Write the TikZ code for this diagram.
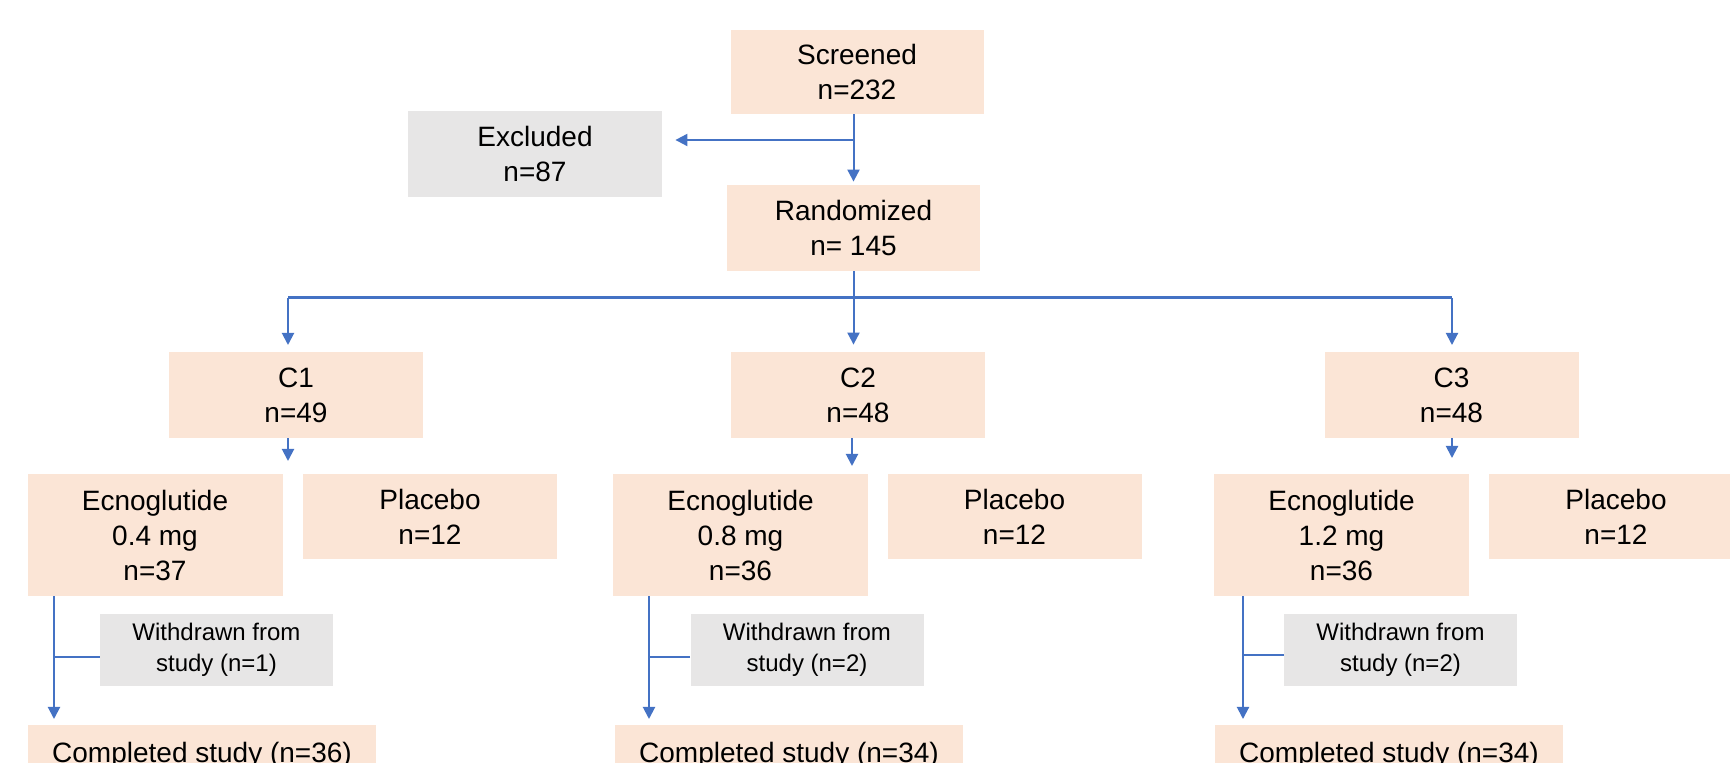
\documentclass[tikz,border=0pt]{standalone}
\usepackage{fontspec}
\setmainfont{Liberation Sans}
\usetikzlibrary{arrows.meta,calc}
\definecolor{peach}{HTML}{FBE5D6}
\definecolor{lgray}{HTML}{E7E6E6}
\definecolor{lblue}{HTML}{4472C4}
\begin{document}
\begin{tikzpicture}[x=0.5pt,y=-0.5pt,
  box/.style={fill=peach, inner sep=0pt, align=center, font=\fontsize{14}{17.5}\selectfont},
  gbox/.style={fill=lgray, inner sep=0pt, align=center, font=\fontsize{14}{17.5}\selectfont},
  wbox/.style={fill=lgray, inner sep=0pt, align=center, font=\fontsize{12}{15.5}\selectfont,
    minimum width=116.5pt, minimum height=36pt},
  cbox/.style={box, minimum width=127pt, minimum height=43pt},
  ebox/.style={box, minimum width=127.5pt, minimum height=61pt},
  pbox/.style={box, minimum width=127pt, minimum height=42.5pt},
  donebox/.style={box, minimum width=174pt, minimum height=30pt},
  conn/.style={draw=lblue, line width=1pt},
  arr/.style={conn, -{Triangle[width=6pt,length=6pt]}},
  busline/.style={draw=lblue, line width=1.5pt}]
\useasboundingbox (0,0) rectangle (1730,763);

% nodes
\node[box, minimum width=126.5pt, minimum height=42pt] (scr) at (857,72) {Screened\\n=232};
\node[gbox, minimum width=127pt, minimum height=43pt] (exc) at (535,154) {Excluded\\n=87};
\node[box, minimum width=126.5pt, minimum height=43pt] (rand) at (853.5,228) {Randomized\\n= 145};

\node[cbox] (c1) at (296,395) {C1\\n=49};
\node[cbox] (c2) at (858,395) {C2\\n=48};
\node[cbox] (c3) at (1451.5,395) {C3\\n=48};

\node[ebox] (e1) at (155,535) {Ecnoglutide\\0.4 mg\\n=37};
\node[ebox] (e2) at (740.5,535) {Ecnoglutide\\0.8 mg\\n=36};
\node[ebox] (e3) at (1341.5,535) {Ecnoglutide\\1.2 mg\\n=36};

\node[pbox] (p1) at (430,516.5) {Placebo\\n=12};
\node[pbox] (p2) at (1014.5,516.5) {Placebo\\n=12};
\node[pbox] (p3) at (1616,516.5) {Placebo\\n=12};

\node[wbox] (w1) at (216.5,650) {Withdrawn from\\study (n=1)};
\node[wbox] (w2) at (807,650) {Withdrawn from\\study (n=2)};
\node[wbox] (w3) at (1400.5,650) {Withdrawn from\\study (n=2)};

\node[donebox] (d1) at (202,755) {Completed study (n=36)};
\node[donebox] (d2) at (789,755) {Completed study (n=34)};
\node[donebox] (d3) at (1389,755) {Completed study (n=34)};

% top connectors
\coordinate (ej) at (853.5,140);
\draw[arr, shorten >=1.5pt] (scr.south -| rand.north) -- (rand.north);
\draw[arr, shorten >=6.5pt] (ej) -- (exc.east |- ej);

% distribution
\coordinate (dj) at (853.5,298);
\coordinate (c1in) at (288,352);
\coordinate (c3in) at (1452,352);
\draw[conn] (rand.south) -- (dj);
\draw[busline] (c1in |- dj) -- (c3in |- dj);
\draw[arr, shorten >=3.5pt] (c1in |- dj) -- (c1in);
\draw[arr, shorten >=3.5pt] (dj) -- (dj |- c2.north);
\draw[arr, shorten >=3.5pt] (c3in |- dj) -- (c3in);

% cohort to arms
\coordinate (a1) at (288,461);
\coordinate (a2) at (852,466);
\coordinate (a3) at (1452,458);
\draw[arr] (c1.south -| a1) -- (a1);
\draw[arr] (c2.south -| a2) -- (a2);
\draw[arr] (c3.south -| a3) -- (a3);

% arm to completed
\coordinate (v1) at (54,719);
\coordinate (v2) at (649,719);
\coordinate (v3) at (1243,719);
\draw[arr] (e1.south -| v1) -- (v1);
\draw[arr] (e2.south -| v2) -- (v2);
\draw[arr] (e3.south -| v3) -- (v3);
\coordinate (b1) at (54,657);
\coordinate (b2) at (649,657);
\coordinate (b3) at (1243,655);
\draw[conn] (w1.west |- b1) -- (b1);
\draw[conn] (w2.west |- b2) -- (b2);
\draw[conn] (w3.west |- b3) -- (b3);
\end{tikzpicture}
\end{document}
